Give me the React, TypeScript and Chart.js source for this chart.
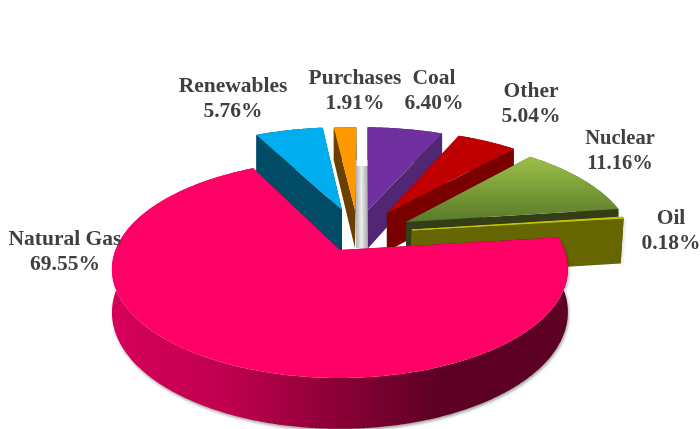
import React, { useEffect, useRef } from "react";
import { Chart, registerables } from "chart.js";

Chart.register(...registerables);

const categories = ["Natural Gas", "Renewables", "Purchases", "Coal", "Other", "Nuclear", "Oil"];
const shares = [69.55, 5.76, 1.91, 6.4, 5.04, 11.16, 0.18];

const topColors = ["#ff0066", "#00aeef", "#ff9900", "#7030a0", "#c00000", "#8fb53f", "#c8c800"];
const wallColors = ["#8a0035", "#004b66", "#6b3f00", "#512673", "#7a0000", "#333d18", "#666600"];

// Presentation: ground-plane offset of each exploded slice, radius factor, thickness, lean of the wall
const explode = [
  { dx: -0.009, dy: 0, r: 1, d: 42, lean: 0 },
  { dx: 0, dy: -0.405, r: 1.05, d: 50, lean: 0 },
  { dx: 0.062, dy: -0.405, r: 1.05, d: 41, lean: 0 },
  { dx: 0.124, dy: -0.405, r: 1.05, d: 41, lean: 0 },
  { dx: 0.213, dy: -0.373, r: 1.05, d: 41, lean: 0 },
  { dx: 0.299, dy: -0.278, r: 1.03, d: 41, lean: 0 },
  { dx: 0.322, dy: -0.196, r: 1.01, d: 48, lean: -3 },
];
const labelPlaces = [
  { x: 65, y: 238, size: 21.5 },
  { x: 233, y: 85, size: 21.5 },
  { x: 355, y: 77, size: 21.5 },
  { x: 434, y: 77, size: 21.5 },
  { x: 531, y: 90, size: 21.5 },
  { x: 620, y: 137, size: 20.5 },
  { x: 671, y: 217, size: 21.5 },
];
const drawOrder = [1, 2, 3, 4, 5, 6, 0];

const CX = 342, CY = 250, AX = 224.5, AY = 105.7, B = 0.174;

function project(x: number, y: number, depth = 0, lean = 0) {
  const s = 1 / (1 - B * y);
  return { x: CX + AX * x * s + lean, y: CY + AY * y * s + depth * s };
}

function poly(ctx: CanvasRenderingContext2D, pts: { x: number; y: number }[], fill: any) {
  ctx.beginPath();
  pts.forEach((p, i) => (i ? ctx.lineTo(p.x, p.y) : ctx.moveTo(p.x, p.y)));
  ctx.closePath();
  ctx.fillStyle = fill;
  ctx.fill();
}

function rimPoints(a0: number, a1: number, e: { dx: number; dy: number; r: number }) {
  const n = Math.max(2, Math.ceil(((a1 - a0) * 180) / Math.PI / 0.5));
  const out: [number, number][] = [];
  for (let i = 0; i <= n; i++) {
    const a = a0 + ((a1 - a0) * i) / n;
    out.push([e.dx + e.r * Math.cos(a), e.dy + e.r * Math.sin(a)]);
  }
  return out;
}

const pie3d = {
  id: "pie3d",
  beforeDatasetsDraw(chart: any) {
    const ctx: CanvasRenderingContext2D = chart.ctx;
    const arcs = chart.getDatasetMeta(0).data;
    for (const i of drawOrder) {
      const { startAngle, endAngle } = arcs[i].getProps(["startAngle", "endAngle"], true);
      const e = explode[i];
      const rim = rimPoints(startAngle, endAngle, e);
      const top = [project(e.dx, e.dy), ...rim.map(([x, y]) => project(x, y))];
      const apexLow = project(e.dx, e.dy, e.d, e.lean);
      const rimLow = rim.map(([x, y]) => project(x, y, e.d, e.lean));

      ctx.save();
      if (i === 3) {
        // soft grey shade in the gap beside the coal slice
        const l = top[0].x - 12, r = top[0].x, t = top[0].y - 44, b = apexLow.y;
        const g = ctx.createLinearGradient(l, 0, r, 0);
        g.addColorStop(0, "rgba(170,170,170,0.9)");
        g.addColorStop(0.45, "rgba(235,235,235,0.9)");
        g.addColorStop(1, "rgba(160,160,160,0.95)");
        poly(ctx, [{ x: l, y: t }, { x: r, y: t }, { x: r, y: b }, { x: l, y: b }], g);
      }
      let wallFill: any = wallColors[i];
      if (i === 0) {
        const g = ctx.createLinearGradient(112, 0, 568, 0);
        g.addColorStop(0, "#d6005a");
        g.addColorStop(0.25, "#c0004f");
        g.addColorStop(0.5, "#8a0035");
        g.addColorStop(0.72, "#5c0024");
        g.addColorStop(1, "#5c0024");
        wallFill = g;
      }
      if (i === 0 || i === 6) {
        ctx.shadowColor = "rgba(0,0,0,0.35)";
        ctx.shadowBlur = 3;
        ctx.shadowOffsetX = 1;
        ctx.shadowOffsetY = 2;
      }
      // outer wall
      poly(ctx, [...rim.map(([x, y]) => project(x, y)), ...rimLow.slice().reverse()], wallFill);
      ctx.shadowColor = "transparent";
      // radial walls
      const first = rim[0], last = rim[rim.length - 1];
      const sideFill = i === 0 ? "#5c0024" : wallColors[i];
      poly(ctx, [project(e.dx, e.dy), project(first[0], first[1]), rimLow[0], apexLow], sideFill);
      poly(ctx, [project(e.dx, e.dy), project(last[0], last[1]), rimLow[rimLow.length - 1], apexLow], sideFill);
      // top face
      let topFill: any = arcs[i].options.backgroundColor;
      if (i === 5) {
        const g = ctx.createLinearGradient(0, 156, 0, 222);
        g.addColorStop(0, "#9bc147");
        g.addColorStop(1, "#5a7a2a");
        topFill = g;
      }
      poly(ctx, top, topFill);
      if (i === 6) {
        ctx.strokeStyle = topColors[6];
        ctx.lineWidth = 1;
        ctx.stroke();
      }
      ctx.restore();
    }
    return false;
  },
  afterDraw(chart: any) {
    const ctx: CanvasRenderingContext2D = chart.ctx;
    ctx.save();
    ctx.fillStyle = "#404040";
    ctx.textAlign = "center";
    ctx.textBaseline = "alphabetic";
    categories.forEach((name, i) => {
      const p = labelPlaces[i];
      ctx.font = `bold ${p.size}px "Liberation Serif"`;
      ctx.fillText(name, p.x, p.y + 7);
      ctx.fillText(shares[i].toFixed(2) + "%", p.x, p.y + 32);
    });
    ctx.restore();
  },
};

export default function App() {
  const ref = useRef<HTMLCanvasElement>(null);
  useEffect(() => {
    document.body.style.margin = "0";
    const chart = new Chart(ref.current as HTMLCanvasElement, {
      type: "pie",
      data: {
        labels: categories,
        datasets: [{ data: shares, backgroundColor: topColors, borderWidth: 0 }],
      },
      options: {
        responsive: false,
        animation: false,
        rotation: 83,
        plugins: { legend: { display: false }, tooltip: { enabled: false } },
      },
      plugins: [pie3d],
    } as any);
    return () => chart.destroy();
  }, []);
  return <canvas ref={ref} width={700} height={429} style={{ display: "block", position: "absolute", left: 0, top: 0 }} />;
}
